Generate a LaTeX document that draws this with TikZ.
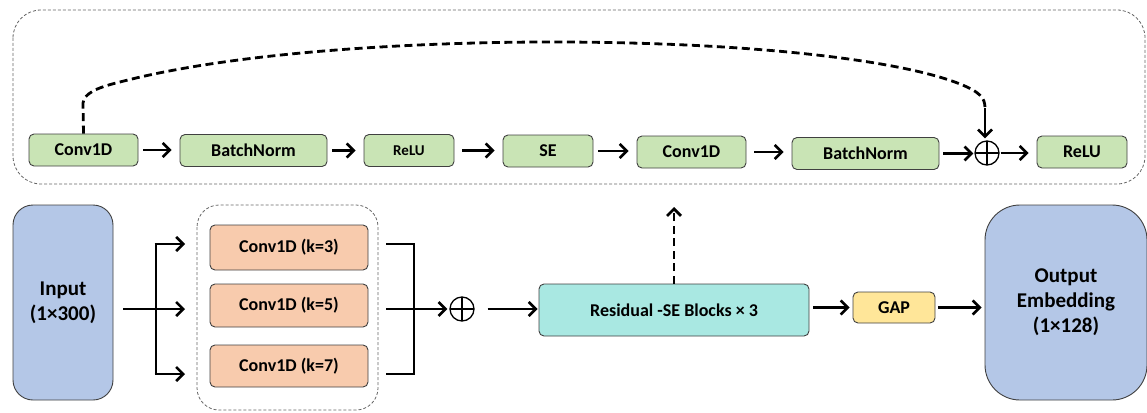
\documentclass[tikz,border=0pt]{standalone}
\usepackage{fontspec}
\setmainfont{Carlito}
\usetikzlibrary{arrows.meta}
\definecolor{gbox}{HTML}{C9E4B5}
\definecolor{bbox}{HTML}{B4C7E7}
\definecolor{obox}{HTML}{F8CBAD}
\definecolor{cbox}{HTML}{A9E8E2}
\definecolor{ybox}{HTML}{FFE699}
\definecolor{edge}{HTML}{404040}
\tikzset{
  blk/.style={draw=edge, line width=0.9pt, rounded corners=5pt, inner sep=0pt, align=center,
    font=\fontsize{18}{21}\selectfont\bfseries},
  gblk/.style={blk, fill=gbox, minimum height=32pt},
  oblk/.style={blk, fill=obox, minimum width=158pt},
  bigblk/.style={blk, fill=bbox, font=\fontsize{21}{25}\selectfont\bfseries},
  arr/.style={line width=2.6pt, -{Straight Barb[length=7pt,width=14pt]}},
  ln/.style={line width=2.6pt},
  dsh/.style={line width=2.8pt, dash pattern=on 8pt off 4.5pt},
  frame/.style={draw=edge!80, line width=0.8pt, dash pattern=on 3pt off 2pt},
  oplus/.style={circle, draw=black, line width=1.3pt, minimum size=24pt, inner sep=0pt, path picture={
    \draw[line width=1.3pt] (path picture bounding box.north) -- (path picture bounding box.south)
      (path picture bounding box.west) -- (path picture bounding box.east);}},
}
\begin{document}
\begin{tikzpicture}[x=1pt,y=-1pt]
\useasboundingbox (0,0) rectangle (1147,412);
% top frame
\draw[frame, rounded corners=28pt] (13,10) rectangle (1145,184);
% top row
\node[gblk, minimum width=109pt] (c1) at (83.5,150) {Conv1D};
\node[gblk, minimum width=147pt] (bn1) at (253.5,150.5) {BatchNorm};
\node[gblk, minimum width=90pt, font=\fontsize{15}{18}\selectfont\bfseries] (r1) at (409,150.5) {ReLU};
\node[gblk, minimum width=90pt] (se) at (548,151) {SE};
\node[gblk, minimum width=109pt] (c2) at (691.5,152) {Conv1D};
\node[gblk, minimum width=147pt] (bn2) at (865.5,153.5) {BatchNorm};
\node[oplus] (p1) at (987,153) {};
\node[gblk, minimum width=90pt] (r2) at (1082,152) {ReLU};
\draw[arr, shorten <=5pt, shorten >=8pt] (c1.east) -- (c1.east -| bn1.west);
\draw[arr, shorten <=5pt, shorten >=8pt] (bn1.east) -- (bn1.east -| r1.west);
\draw[arr, shorten <=8pt, shorten >=8pt] (r1.east) -- (r1.east -| se.west);
\draw[arr, shorten <=5pt, shorten >=8pt] (se.east) -- (se.east -| c2.west);
\draw[arr, shorten <=8pt, shorten >=8pt] (c2.east) -- (c2.east -| bn2.west);
\draw[arr, shorten <=4pt, shorten >=1pt] (bn2.east) -- (bn2.east -| p1.west);
\draw[arr, shorten <=1pt, shorten >=8pt] (p1.east) -- (p1.east -| r2.west);
% skip connection
\coordinate (sk1) at (83,103);
\coordinate (sk2) at (985,108);
\draw[dsh] (c1.north) -- (sk1) .. controls (84,94) and (95,88) .. (120,82)
  .. controls (250,48) and (450,42) .. (550,42)
  .. controls (750,42) and (900,60) .. (960,84)
  .. controls (980,92) and (985,98) .. (sk2);
\draw[arr, shorten >=2pt] (sk2) -- (sk2 |- p1.north);
% bottom row
\node[bigblk, minimum width=100pt, minimum height=195pt, rounded corners=20pt] (inp) at (63,302.5) {Input\\(1×300)};
\draw[frame, rounded corners=22pt] (197,205) rectangle (378,410);
\node[oblk, minimum height=45pt] (k3) at (289,247.5) {Conv1D (k=3)};
\node[oblk, minimum height=43pt] (k5) at (289,305.5) {Conv1D (k=5)};
\node[oblk, minimum height=42pt] (k7) at (289,366) {Conv1D (k=7)};
\coordinate (s) at (156,309);
\coordinate (sa) at (156,244);
\coordinate (sb) at (156,374);
\coordinate (ea) at (185,244);
\coordinate (em) at (185,309);
\coordinate (eb) at (185,374);
\draw[arr, shorten <=10pt] (inp.east |- s) -- (em);
\draw[ln] (sa) -- (sb);
\draw[arr] ([xshift=-1.3pt]sa) -- (ea);
\draw[arr] ([xshift=-1.3pt]sb) -- (eb);
\coordinate (ma) at (386,244);
\coordinate (mb) at (386,374);
\coordinate (mm) at (386,309);
\coordinate (ja) at (414,244);
\coordinate (jb) at (414,374);
\node[oplus] (p2) at (462,309) {};
\draw[ln] (ma) -- (ja) -- (jb) -- (mb);
\draw[arr, shorten >=2pt] (mm) -- (p2.west);
\node[blk, fill=cbox, minimum width=270pt, minimum height=52pt] (res) at (674,310) {Residual -SE Blocks × 3};
\draw[arr, shorten <=13pt, shorten >=1pt] (p2.east) -- (p2.east -| res.west);
\coordinate (up) at (674,207);
\draw[dsh, -{Straight Barb[length=7pt,width=14pt]}] (res.north) -- (up);
\node[blk, fill=ybox, minimum width=82pt, minimum height=31pt] (gap) at (894,307.5) {GAP};
\node[bigblk, minimum width=162pt, minimum height=195pt, rounded corners=35pt] (out) at (1066,302.5) {Output\\Embedding\\(1×128)};
\draw[arr, shorten <=4pt, shorten >=3pt] (res.east |- gap) -- (gap.west);
\draw[arr, shorten <=3pt, shorten >=3pt] (gap.east) -- (gap.east -| out.west);
\end{tikzpicture}
\end{document}
